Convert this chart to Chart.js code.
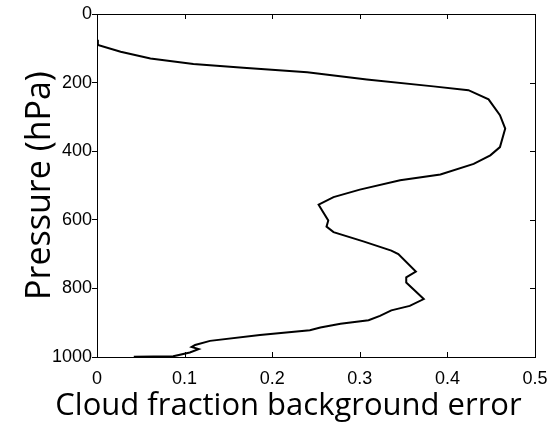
<!DOCTYPE html>
<html>
<head>
<meta charset="utf-8">
<script src="https://cdn.jsdelivr.net/npm/chart.js@4/dist/chart.umd.min.js"></script>
<style>
  body { margin: 0; background: #fff; }
  canvas { display: block; }
</style>
</head>
<body>
<canvas id="errChart" width="559" height="422"></canvas>
<script>
// pressure levels (hPa) read from the profile, top to bottom
const pressure = [75, 90, 110, 130, 146, 157, 170, 191, 211, 222, 249, 295, 334, 388, 412, 437, 468, 485, 512, 534, 556, 573, 602, 620, 636, 663, 690, 700, 751, 768, 783, 807, 831, 851, 864, 880, 893, 903, 914, 922, 936, 953, 965, 971, 977, 987, 998, 999];
// cloud fraction background error at each level
const cfError = [0.000, 0.001, 0.027, 0.061, 0.110, 0.167, 0.240, 0.308, 0.384, 0.424, 0.447, 0.460, 0.466, 0.460, 0.449, 0.430, 0.392, 0.346, 0.300, 0.270, 0.253, 0.257, 0.264, 0.262, 0.270, 0.304, 0.336, 0.344, 0.364, 0.353, 0.353, 0.363, 0.373, 0.357, 0.336, 0.323, 0.310, 0.278, 0.255, 0.243, 0.186, 0.129, 0.112, 0.108, 0.116, 0.106, 0.087, 0.042];

const xTicks = [0, 0.1, 0.2, 0.3, 0.4, 0.5];
const yTicks = [0, 200, 400, 600, 800, 1000];

const tickFont = { family: 'Liberation Sans, Arial, sans-serif', size: 18 };
const xTitleFont = { family: 'Open Sans, sans-serif', size: 31, weight: 'normal', lineHeight: 1 };
const yTitleFont = { family: 'Open Sans, sans-serif', size: 34, weight: 'normal', lineHeight: 1 };

// matlab style box: top/right edges plus ticks pointing inwards
const boxTicks = {
    id: 'boxTicks',
    afterDatasetsDraw(chart) {
        const ctx = chart.ctx;
        const a = chart.chartArea;
        const xs = chart.scales.x, ys = chart.scales.y;
        const len = 5;
        ctx.save();
        ctx.strokeStyle = '#000';
        ctx.lineWidth = 1;
        ctx.beginPath();
        ctx.moveTo(a.left, Math.round(a.top) + 0.5);
        ctx.lineTo(Math.round(a.right) + 0.5, Math.round(a.top) + 0.5);
        ctx.lineTo(Math.round(a.right) + 0.5, a.bottom);
        xTicks.forEach(v => {
            const px = Math.round(xs.getPixelForValue(v)) + 0.5;
            ctx.moveTo(px, a.bottom);
            ctx.lineTo(px, a.bottom - len);
            ctx.moveTo(px, a.top);
            ctx.lineTo(px, a.top + len);
        });
        yTicks.forEach(v => {
            const py = Math.round(ys.getPixelForValue(v)) + 0.5;
            ctx.moveTo(a.right, py);
            ctx.lineTo(a.right - len, py);
        });
        ctx.stroke();
        ctx.restore();
    }
};

const ctx = document.getElementById('errChart').getContext('2d');
new Chart(ctx, {
    type: 'scatter',
    data: {
        datasets: [{
            data: pressure.map((p, i) => ({ x: cfError[i], y: p })),
            showLine: true,
            borderColor: '#000',
            borderWidth: 2,
            pointRadius: 0,
            tension: 0,
            fill: false
        }]
    },
    options: {
        responsive: false,
        animation: false,
        layout: { padding: { top: 14, left: 18, right: 0, bottom: 0 } },
        plugins: {
            legend: { display: false },
            tooltip: { enabled: false },
            title: {
                display: true,
                position: 'bottom',
                text: 'Cloud fraction background error',
                color: '#000',
                font: xTitleFont,
                padding: 0
            }
        },
        scales: {
            x: {
                type: 'linear',
                min: 0,
                max: 0.5,
                afterBuildTicks: s => { s.ticks = xTicks.map(v => ({ value: v })); },
                afterFit: s => { s.height = 34; },
                ticks: { font: tickFont, color: '#000', padding: 11, maxRotation: 0, autoSkip: false, callback: v => String(v) },
                grid: { drawOnChartArea: false, drawTicks: false },
                border: { color: '#000', width: 1 }
            },
            y: {
                type: 'linear',
                reverse: true,
                min: 0,
                max: 1000,
                afterBuildTicks: s => { s.ticks = yTicks.map(v => ({ value: v })); },
                afterFit: s => { s.width = 79; },
                ticks: { font: tickFont, color: '#000', padding: 0, autoSkip: false, callback: v => String(v) },
                grid: { drawOnChartArea: false, drawTicks: true, tickLength: 5, color: '#000' },
                border: { color: '#000', width: 1 },
                title: {
                    display: true,
                    text: 'Pressure (hPa)',
                    color: '#000',
                    font: yTitleFont,
                    padding: { top: 5, bottom: 0 }
                }
            },
            // empty axis only to keep the right margin
            yRight: {
                position: 'right',
                display: true,
                grid: { display: false },
                ticks: { display: false },
                border: { display: false },
                afterFit: s => { s.width = 24; }
            }
        }
    },
    plugins: [boxTicks]
});
</script>
</body>
</html>
